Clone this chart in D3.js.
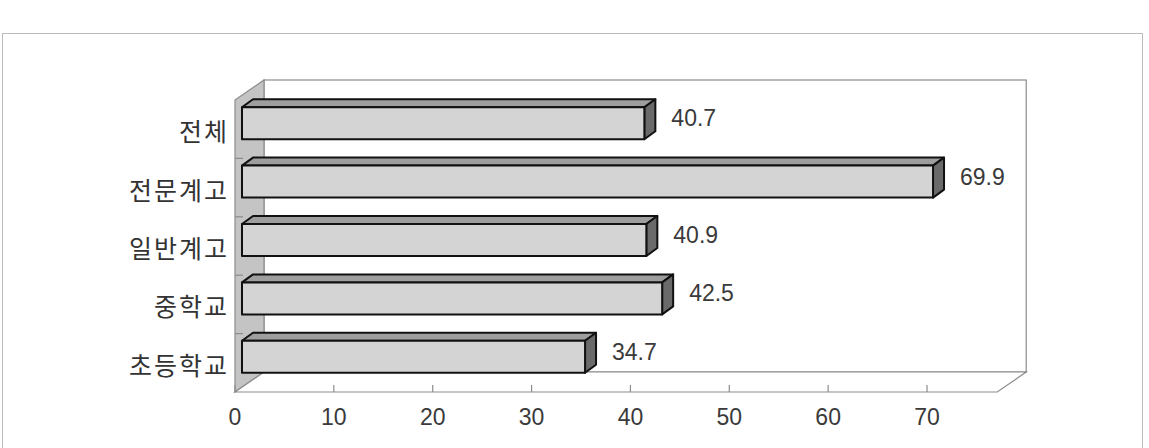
<!DOCTYPE html>
<html>
<head>
<meta charset="utf-8">
<script src="https://cdn.jsdelivr.net/npm/d3@7"></script>
<style>
  body { margin: 0; background: #fff; }
  svg { display: block; }
</style>
</head>
<body>
<svg class="plot" width="1149" height="448"></svg>
<script>
var categories = ["전체", "전문계고", "일반계고", "중학교", "초등학교"];
var values = [40.7, 69.9, 40.9, 42.5, 34.7];
var tickValues = [0, 10, 20, 30, 40, 50, 60, 70];

var svg = d3.select(".plot");

// front plane of the 3d box
var frontLeft = 235, frontTop = 100, frontBottom = 392, axisMax = 77.1;
var depth = {dx: 29, dy: -20};      // walls
var barDepth = {dx: 11, dy: -8};    // bars
var barShift = {dx: 7, dy: -6};     // bars sit a little into the box
var barH = 32;

var x = d3.scaleLinear().domain([0, 70]).range([frontLeft, frontLeft + 70 * 9.886]);
var y = d3.scaleBand().domain(categories).range([frontTop, frontBottom]);

var frontRight = x(axisMax);

// dotted outer frame
svg.append("rect")
    .attr("x", 2.5).attr("y", 33.5)
    .attr("width", 1140).attr("height", 430)
    .attr("fill", "none")
    .attr("stroke", "#777")
    .style("stroke-dasharray", "1,1");

function pts(a) { return a.map(function(p) { return p.join(","); }).join(" "); }

// back wall
svg.append("rect")
    .attr("x", frontLeft + depth.dx).attr("y", frontTop + depth.dy)
    .attr("width", frontRight - frontLeft).attr("height", frontBottom - frontTop)
    .attr("fill", "#fff").attr("stroke", "#8c8c8c").attr("stroke-width", 1.2);

// side wall
svg.append("polygon")
    .attr("points", pts([[frontLeft, frontTop], [frontLeft + depth.dx, frontTop + depth.dy],
        [frontLeft + depth.dx, frontBottom + depth.dy], [frontLeft, frontBottom]]))
    .attr("fill", "#c4c4c4").attr("stroke", "#8c8c8c").attr("stroke-width", 1.2);

// floor
svg.append("polygon")
    .attr("points", pts([[frontLeft, frontBottom], [frontRight, frontBottom],
        [frontRight + depth.dx, frontBottom + depth.dy], [frontLeft + depth.dx, frontBottom + depth.dy]]))
    .attr("fill", "#fff").attr("stroke", "#8c8c8c").attr("stroke-width", 1.2);

// category tick marks on side wall
var bounds = categories.map(function(c) { return y(c); }).slice(1);
svg.selectAll(".ytick")
    .data(bounds)
    .enter().append("line")
    .attr("x1", frontLeft).attr("x2", frontLeft + 8)
    .attr("y1", function(d) { return d; }).attr("y2", function(d) { return d; })
    .attr("stroke", "#8c8c8c").attr("stroke-width", 1.2);

// x ticks
svg.selectAll(".xtick")
    .data(tickValues)
    .enter().append("line")
    .attr("x1", function(d) { return x(d); }).attr("x2", function(d) { return x(d); })
    .attr("y1", frontBottom).attr("y2", frontBottom - 7)
    .attr("stroke", "#8c8c8c").attr("stroke-width", 1.2);

svg.selectAll(".xlab")
    .data(tickValues)
    .enter().append("text")
    .attr("x", function(d) { return x(d); })
    .attr("y", frontBottom + 25)
    .attr("text-anchor", "middle")
    .attr("dominant-baseline", "central")
    .style("font-family", "Liberation Sans, Arial, sans-serif")
    .style("font-size", "23px")
    .style("fill", "#3a3a3a")
    .text(function(d) { return d; });

// category labels
svg.selectAll(".ylab")
    .data(categories)
    .enter().append("text")
    .attr("x", 229)
    .attr("y", function(d) { return y(d) + y.bandwidth() / 2 + 1; })
    .attr("text-anchor", "end")
    .attr("dominant-baseline", "central")
    .style("font-family", "Noto Sans CJK KR, sans-serif")
    .style("font-size", "25px")
    .style("letter-spacing", "2px")
    .style("fill", "#333")
    .text(function(d) { return d; });

// bars
var data = categories.map(function(c, i) { return {cat: c, value: values[i]}; });

var bar = svg.selectAll(".bar")
    .data(data)
    .enter().append("g")
    .attr("class", "bar");

function geom(d) {
  var fx = x(0) + barShift.dx,
      fx2 = x(d.value) + barShift.dx,
      fy = y(d.cat) + y.bandwidth() / 2 + barShift.dy - barH / 2;
  return {fx: fx, fx2: fx2, fy: fy};
}

bar.append("polygon")
    .attr("points", function(d) {
      var g = geom(d);
      return pts([[g.fx, g.fy], [g.fx + barDepth.dx, g.fy + barDepth.dy],
          [g.fx2 + barDepth.dx, g.fy + barDepth.dy], [g.fx2, g.fy]]);
    })
    .attr("fill", "#9e9e9e").attr("stroke", "#111").attr("stroke-width", 2)
    .attr("stroke-linejoin", "round");

bar.append("polygon")
    .attr("points", function(d) {
      var g = geom(d);
      return pts([[g.fx2, g.fy], [g.fx2 + barDepth.dx, g.fy + barDepth.dy],
          [g.fx2 + barDepth.dx, g.fy + barH + barDepth.dy], [g.fx2, g.fy + barH]]);
    })
    .attr("fill", "#6a6a6a").attr("stroke", "#111").attr("stroke-width", 2)
    .attr("stroke-linejoin", "round");

bar.append("rect")
    .attr("x", function(d) { return geom(d).fx; })
    .attr("y", function(d) { return geom(d).fy; })
    .attr("width", function(d) { var g = geom(d); return g.fx2 - g.fx; })
    .attr("height", barH)
    .attr("fill", "#d4d4d4").attr("stroke", "#111").attr("stroke-width", 2)
    .attr("stroke-linejoin", "round");

bar.append("text")
    .attr("x", function(d) { return geom(d).fx2 + barDepth.dx + 16; })
    .attr("y", function(d) { return geom(d).fy + barH / 2 - 5; })
    .attr("dominant-baseline", "central")
    .style("font-family", "Liberation Sans, Arial, sans-serif")
    .style("font-size", "23px")
    .style("fill", "#3a3a3a")
    .text(function(d) { return d.value.toFixed(1); });
</script>
</body>
</html>
